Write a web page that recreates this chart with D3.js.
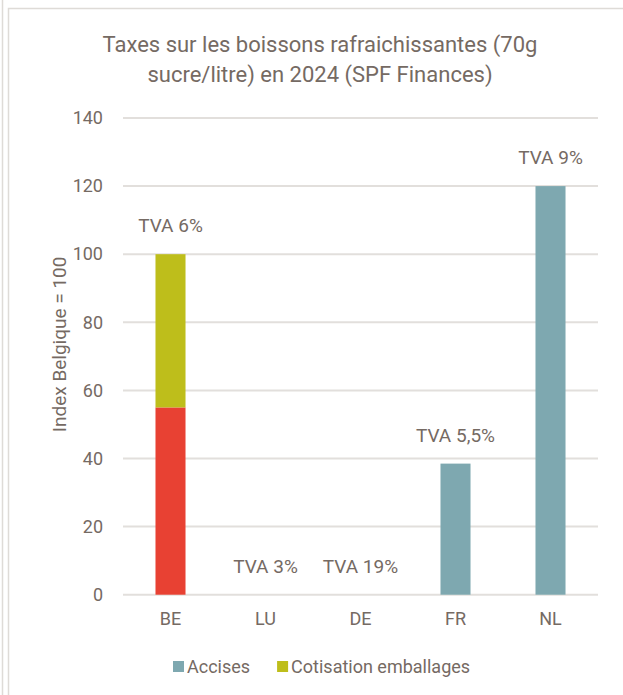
<!DOCTYPE html>
<html>
<head>
<meta charset="utf-8">
<script src="https://cdn.jsdelivr.net/npm/d3@7"></script>
<style>
  body { margin: 0; background: #fff; }
  svg text { font-family: Roboto, "Noto Sans", sans-serif; fill: #756a63; }
</style>
</head>
<body>
<script>
// categories and series (index Belgique = 100)
var countries = ["BE", "LU", "DE", "FR", "NL"];
var accisesRed = [55, 0, 0, 0, 0];      // BE accises drawn in red
var accises = [0, 0, 0, 38.5, 120];
var cotisation = [45, 0, 0, 0, 0];
var tvaLabels = ["TVA 6%", "TVA 3%", "TVA 19%", "TVA 5,5%", "TVA 9%"];
var yTicks = [0, 20, 40, 60, 80, 100, 120, 140];

var svgWidth = 623, svgHeight = 695;
var margin = { top: 118, right: 25, bottom: 100, left: 123 };
var width = svgWidth - margin.left - margin.right;
var height = svgHeight - margin.top - margin.bottom - 0.3;

var svg = d3.select("body").append("svg")
  .attr("width", svgWidth)
  .attr("height", svgHeight);

// frame
svg.append("line")
  .attr("x1", 2.5).attr("x2", 2.5).attr("y1", 0).attr("y2", svgHeight)
  .attr("stroke", "#dedbd7").attr("stroke-width", 1.5);
svg.append("rect")
  .attr("x", 8.5).attr("y", 8.5)
  .attr("width", svgWidth + 10).attr("height", svgHeight + 10)
  .attr("fill", "none").attr("stroke", "#dedbd7").attr("stroke-width", 1.5);

// title
svg.append("text")
  .attr("text-anchor", "middle")
  .style("font-size", "22px")
  .selectAll("tspan")
  .data(["Taxes sur les boissons rafraichissantes (70g", "sucre/litre) en 2024 (SPF Finances)"])
  .enter().append("tspan")
  .attr("x", 320)
  .attr("y", (d, i) => 52 + i * 30)
  .text(d => d);

var chartGroup = svg.append("g").attr("transform", `translate(${margin.left}, ${margin.top})`);

var xScale = d3.scaleBand()
  .domain(countries)
  .range([0, width])
  .paddingInner(0.684)
  .paddingOuter(0.342);

var yScale = d3.scaleLinear()
  .domain([0, 140])
  .range([height, 0]);

// gridlines
chartGroup.append("g")
  .selectAll("line")
  .data(yTicks)
  .enter().append("line")
  .attr("x1", 0).attr("x2", width)
  .attr("y1", d => yScale(d)).attr("y2", d => yScale(d))
  .attr("stroke", "#e2dfdc").attr("stroke-width", 2);

// y axis
var yAxis = d3.axisLeft(yScale).tickValues(yTicks).tickSize(0).tickPadding(20);
chartGroup.append("g")
  .call(yAxis)
  .call(g => g.select(".domain").remove())
  .selectAll("text")
  .style("font-size", "18px");

// x axis
var xAxis = d3.axisBottom(xScale).tickSize(0).tickPadding(18);
chartGroup.append("g")
  .attr("transform", `translate(0, ${height})`)
  .call(xAxis)
  .call(g => g.select(".domain").remove())
  .selectAll("text")
  .style("font-size", "18px");

// stacked bars
var rows = countries.map((c, i) => ({ c: c, red: accisesRed[i], acc: accises[i], cot: cotisation[i] }));
var stack = d3.stack().keys(["red", "acc", "cot"])(rows);
var colors = { red: "#e84133", acc: "#7ea8b0", cot: "#bebe1b" };

chartGroup.selectAll(".series")
  .data(stack)
  .enter().append("g")
  .attr("fill", d => colors[d.key])
  .selectAll("rect")
  .data(d => d)
  .enter().append("rect")
  .attr("x", d => xScale(d.data.c))
  .attr("width", xScale.bandwidth())
  .attr("y", d => yScale(d[1]))
  .attr("height", d => yScale(d[0]) - yScale(d[1]));

// TVA labels
chartGroup.selectAll(".tva")
  .data(rows)
  .enter().append("text")
  .attr("text-anchor", "middle")
  .style("font-size", "19px")
  .attr("x", d => xScale(d.c) + xScale.bandwidth() / 2)
  .attr("y", d => yScale(d.red + d.acc + d.cot) - 22)
  .text((d, i) => tvaLabels[i]);

// y axis title
svg.append("text")
  .attr("transform", "rotate(-90)")
  .attr("x", -(margin.top + height / 2) + 12)
  .attr("y", 66)
  .attr("text-anchor", "middle")
  .style("font-size", "19px")
  .text("Index Belgique = 100");

// legend
var legendItems = [
  { label: "Accises", color: colors.acc },
  { label: "Cotisation emballages", color: colors.cot }
];
var legend = svg.append("g").attr("transform", "translate(173, 661)");
var lx = 0;
legendItems.forEach(function(item) {
  var g = legend.append("g").attr("transform", `translate(${lx}, 0)`);
  g.append("rect").attr("width", 11).attr("height", 11).attr("fill", item.color);
  var t = g.append("text").attr("x", 14).attr("y", 12).style("font-size", "18px").text(item.label);
  lx += 14 + t.node().getComputedTextLength() + 27;
});
</script>
</body>
</html>
